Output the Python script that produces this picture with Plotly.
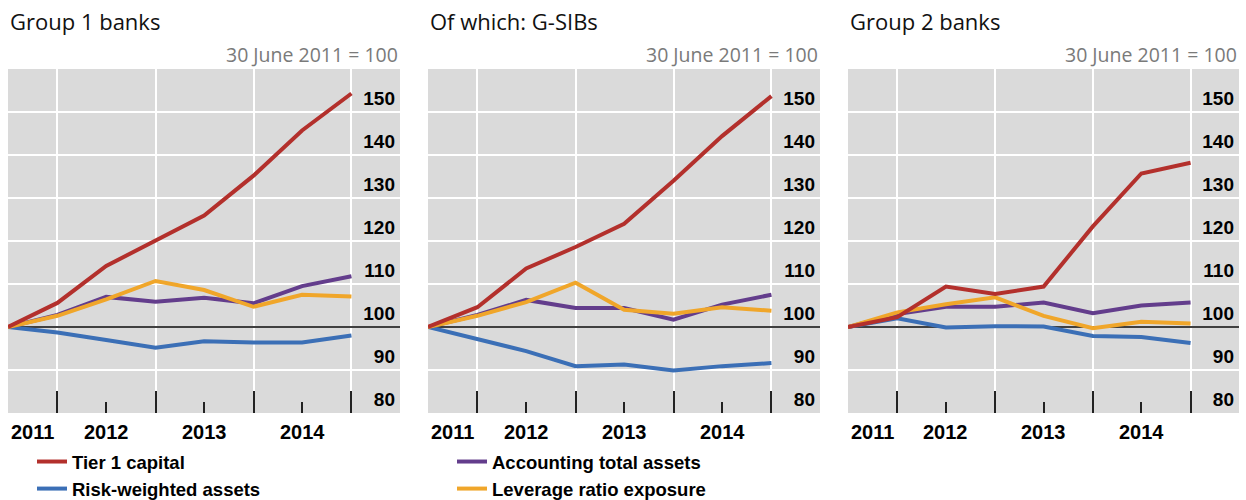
import plotly.graph_objects as go

# ---------------- data ----------------
periods = ["2011-06-30", "2011-12-31", "2012-06-30", "2012-12-31",
           "2013-06-30", "2013-12-31", "2014-06-30", "2014-12-31"]

panel_titles = ["Group 1 banks", "Of which: G-SIBs", "Group 2 banks"]
index_note = "30 June 2011 = 100"

series_names = ["Tier 1 capital", "Risk-weighted assets",
                "Accounting total assets", "Leverage ratio exposure"]

g1_tier1 = [100, 105.6, 114.2, 120.2, 125.9, 135.2, 145.7, 154.3]
g1_rwa = [100, 98.7, 97.0, 95.2, 96.7, 96.4, 96.4, 98.0]
g1_assets = [100, 102.8, 107.0, 105.9, 106.8, 105.5, 109.5, 111.8]
g1_lev = [100, 102.6, 106.4, 110.7, 108.6, 104.7, 107.5, 107.1]

gsib_tier1 = [100, 104.6, 113.6, 118.6, 124.0, 134.0, 144.4, 153.7]
gsib_rwa = [100, 97.2, 94.4, 90.9, 91.3, 89.9, 90.9, 91.6]
gsib_assets = [100, 102.8, 106.3, 104.4, 104.4, 101.7, 105.2, 107.5]
gsib_lev = [100, 102.6, 105.8, 110.3, 104.0, 103.1, 104.6, 103.8]

g2_tier1 = [100, 102.3, 109.4, 107.7, 109.4, 123.4, 135.7, 138.2]
g2_rwa = [100, 102.0, 99.9, 100.2, 100.1, 97.9, 97.7, 96.3]
g2_assets = [100, 103.0, 104.7, 104.7, 105.7, 103.2, 105.0, 105.7]
g2_lev = [100, 103.4, 105.3, 106.9, 102.6, 99.7, 101.2, 100.8]

y_ticks = [80, 90, 100, 110, 120, 130, 140, 150]
year_labels = ["2011", "2012", "2013", "2014"]
year_label_dates = ["2011-09-28", "2012-06-30", "2013-06-30", "2014-06-30"]
year_end_dates = ["2011-12-31", "2012-12-31", "2013-12-31", "2014-12-31"]
mid_year_dates = ["2012-06-30", "2013-06-30", "2014-06-30"]
x_range = ["2011-06-30", "2015-06-30"]
y_range = [80, 160]
base_level = 100

# ---------------- styling ----------------
colors = {
    "Tier 1 capital": "#b3302c",
    "Risk-weighted assets": "#3b6fb6",
    "Accounting total assets": "#633d8c",
    "Leverage ratio exposure": "#f0a62a",
}
W, H = 1246, 500
panel_px = [(8, 400), (428, 820), (848, 1239)]
top_px, bot_px = 69, 413
BOLD = "Liberation Sans"
SANS = "Open Sans"

panels = [
    {"Tier 1 capital": g1_tier1, "Risk-weighted assets": g1_rwa,
     "Accounting total assets": g1_assets, "Leverage ratio exposure": g1_lev},
    {"Tier 1 capital": gsib_tier1, "Risk-weighted assets": gsib_rwa,
     "Accounting total assets": gsib_assets, "Leverage ratio exposure": gsib_lev},
    {"Tier 1 capital": g2_tier1, "Risk-weighted assets": g2_rwa,
     "Accounting total assets": g2_assets, "Leverage ratio exposure": g2_lev},
]

draw_order = ["Risk-weighted assets", "Accounting total assets",
              "Leverage ratio exposure", "Tier 1 capital"]
legend_of = {"Tier 1 capital": ("legend", 1), "Risk-weighted assets": ("legend", 2),
             "Accounting total assets": ("legend2", 1),
             "Leverage ratio exposure": ("legend2", 2)}

fig = go.Figure()
layout = dict(width=W, height=H, margin=dict(l=0, r=0, t=0, b=0, autoexpand=False),
              paper_bgcolor="white", plot_bgcolor="#dadada", autosize=False)
annotations = []
shapes = []

ydom = [1 - bot_px / H, 1 - top_px / H]
for i, data in enumerate(panels):
    sfx = "" if i == 0 else str(i + 1)
    xa, ya = "x" + sfx, "y" + sfx
    for name in draw_order:
        lg, rank = legend_of[name]
        fig.add_trace(go.Scatter(
            x=periods, y=data[name], mode="lines", name=name,
            line=dict(color=colors[name], width=4),
            xaxis=xa, yaxis=ya, showlegend=(i == 0),
            legend=lg, legendrank=rank, hoverinfo="skip"))
    x0, x1 = panel_px[i]
    layout["xaxis" + sfx] = dict(
        domain=[x0 / W, x1 / W], anchor=ya, type="date", range=x_range,
        tickvals=year_end_dates, showticklabels=False,
        showgrid=True, gridcolor="white", gridwidth=2,
        ticks="inside", ticklen=22, tickwidth=1.5, tickcolor="#222",
        minor=dict(tickvals=mid_year_dates, ticks="inside", ticklen=11,
                   tickwidth=1.5, tickcolor="#222", showgrid=False),
        showline=False, zeroline=False, fixedrange=True)
    layout["yaxis" + sfx] = dict(
        domain=ydom, anchor=xa, side="right", range=y_range,
        tickvals=y_ticks, ticktext=[str(v) for v in y_ticks],
        ticks="", ticklabelposition="inside top", ticklabelstandoff=2,
        tickfont=dict(family=BOLD, size=19, color="black", weight="bold"),
        showgrid=True, gridcolor="white", gridwidth=2,
        showline=False, zeroline=False, fixedrange=True)
    shapes.append(dict(type="line", xref=xa, yref=ya,
                       x0=x_range[0], x1=x_range[1], y0=base_level, y1=base_level,
                       line=dict(color="black", width=1.3), layer="between"))
    annotations.append(dict(text=panel_titles[i], xref="paper", yref="paper",
                            x=x0 / W, y=1 - 21 / H, xanchor="left", yanchor="middle",
                            showarrow=False,
                            font=dict(family=SANS, size=22, color="#111")))
    annotations.append(dict(text=index_note, xref="paper", yref="paper",
                            x=x1 / W, y=1 - 55 / H, xanchor="right", yanchor="middle",
                            showarrow=False,
                            font=dict(family=SANS, size=19.5, color="#7a7a7a")))
    for lbl, d in zip(year_labels, year_label_dates):
        annotations.append(dict(text=lbl, xref=xa, yref="paper", x=d,
                                y=1 - 432 / H, xanchor="center", yanchor="middle",
                                showarrow=False,
                                font=dict(family=BOLD, size=20, color="black",
                                          weight="bold")))

legend_style = dict(font=dict(family=BOLD, size=18.5, color="black", weight="bold"),
                    bgcolor="rgba(0,0,0,0)", borderwidth=0, orientation="v",
                    xanchor="left", yanchor="bottom", y=-8 / H, traceorder="normal",
                    itemwidth=30, tracegroupgap=0)
layout["legend"] = dict(legend_style, x=32 / W)
layout["legend2"] = dict(legend_style, x=452 / W)
layout["annotations"] = annotations
layout["shapes"] = shapes
layout["hovermode"] = False
fig.update_layout(**layout)

fig.write_html("out.html", config={"displayModeBar": False},
               post_script="document.body.style.margin='0';")
